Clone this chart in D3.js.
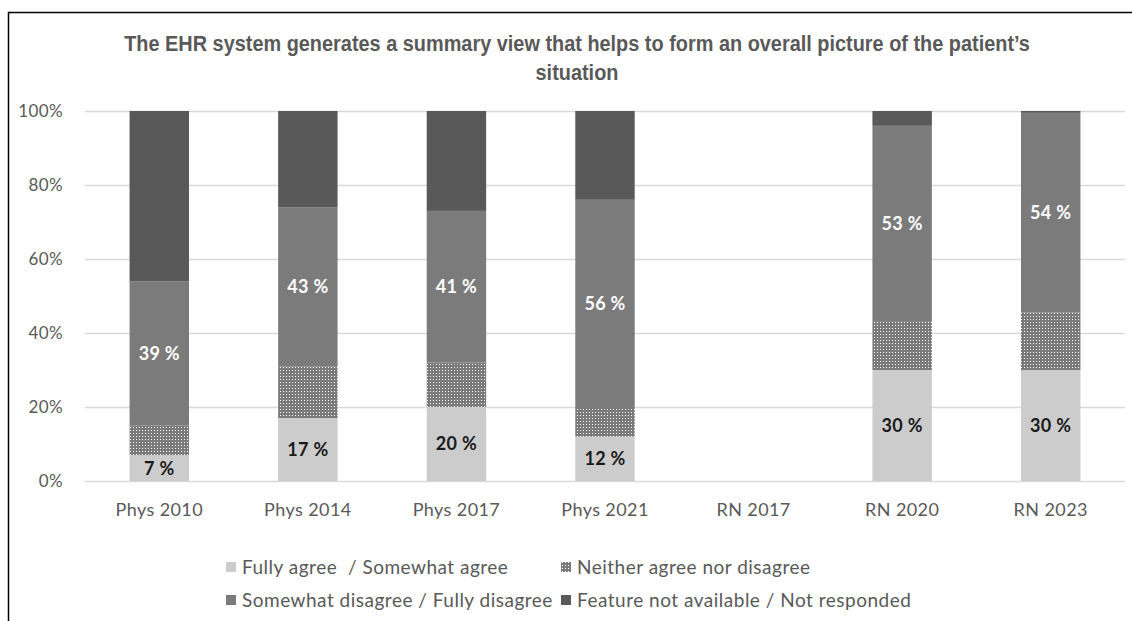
<!DOCTYPE html>
<html>
<head>
<meta charset="utf-8">
<script src="https://cdn.jsdelivr.net/npm/d3@7"></script>
<style>
  body { margin: 0; background: #fff; }
  svg { display: block; }
</style>
</head>
<body>
<svg id="chart" width="1132" height="621"></svg>
<script>
// Survey groups along the x axis
const categories = ["Phys 2010", "Phys 2014", "Phys 2017", "Phys 2021", "RN 2017", "RN 2020", "RN 2023"];

// Response shares (%) per group; RN 2017 has no answers for this item
const agree        = [7, 17, 20, 12, null, 30, 30];
const neutral      = [8, 14, 12, 8, null, 13, 15.5];
const disagree     = [39, 43, 41, 56, null, 53, 54];
const notAvailable = [46, 26, 27, 24, null, 4, 0.5];

const seriesNames = [
  "Fully agree  / Somewhat agree",
  "Neither agree nor disagree",
  "Somewhat disagree / Fully disagree",
  "Feature not available / Not responded"
];
const yTicks = [0, 20, 40, 60, 80, 100];
const titleLines = [
  "The EHR system generates a summary view that helps to form an overall picture of the patient\u2019s",
  "situation"
];

const keys = ["agree", "neutral", "disagree", "notAvailable"];
const rows = categories.map((c, i) => ({
  category: c,
  agree: agree[i] ?? 0,
  neutral: neutral[i] ?? 0,
  disagree: disagree[i] ?? 0,
  notAvailable: notAvailable[i] ?? 0
}));

const svg = d3.select("#chart");
const textFont = "Lato, 'Open Sans', sans-serif";
const axisGrey = "#595959";

// Dotted fill for the neutral answers
const defs = svg.append("defs");
const pat = defs.append("pattern")
  .attr("id", "dots").attr("patternUnits", "userSpaceOnUse")
  .attr("width", 3).attr("height", 3);
pat.append("rect").attr("width", 3).attr("height", 3).attr("fill", "#7a7a7a");
pat.append("rect").attr("x", 1).attr("y", 1).attr("width", 1).attr("height", 1).attr("fill", "#ffffff");

const fills = { agree: "#cccccc", neutral: "url(#dots)", disagree: "#7b7b7b", notAvailable: "#595959" };

// Chart frame
svg.append("path")
  .attr("d", "M8.5,621 L8.5,12.5 L1132,12.5")
  .attr("fill", "none").attr("stroke", "#000").attr("stroke-width", 1.5);

// Title, set in a condensed bold face (squeezed horizontally to the line width)
const titleFont = "'Liberation Sans', Arial, sans-serif";
const titleSize = 22;
const titleLine = (txt) => {
  const g = svg.append("g");
  const t = g.append("text").attr("x", 0).attr("y", 0)
    .attr("font-family", titleFont).attr("font-weight", "bold").attr("font-size", titleSize)
    .attr("fill", axisGrey).attr("text-anchor", "middle").text(txt);
  return { g, t };
};
const l1 = titleLine(titleLines[0]);
const sx = 906 / l1.t.node().getComputedTextLength();
l1.g.attr("transform", `translate(577,51) scale(${sx},1)`);
const l2 = titleLine(titleLines[1]);
l2.g.attr("transform", `translate(577,80) scale(${sx},1)`);

// Scales
const x = d3.scaleBand().domain(categories).range([85, 1125]).paddingInner(0.6).paddingOuter(0.3);
const y = d3.scaleLinear().domain([0, 100]).range([481, 111]);

// Gridlines and y labels
const yAxis = d3.axisLeft(y).tickValues(yTicks).tickFormat(d => d + "%")
  .tickSize(-(1125 - 85)).tickPadding(22);
const gy = svg.append("g").attr("transform", "translate(85,0)").call(yAxis);
gy.select(".domain").remove();
gy.selectAll(".tick line").attr("stroke", "#d9d9d9").attr("stroke-width", 1.3);
gy.selectAll(".tick text").attr("fill", axisGrey).attr("font-size", 17)
  .attr("letter-spacing", 0.4).attr("font-family", textFont);

// x labels
const xAxis = d3.axisBottom(x).tickSize(0).tickPadding(22);
const gx = svg.append("g").attr("transform", "translate(0,481)").call(xAxis);
gx.select(".domain").remove();
gx.selectAll(".tick text").attr("fill", axisGrey).attr("font-size", 18)
  .attr("letter-spacing", 0.4).attr("font-family", textFont);

// Stacked bars
const stacked = d3.stack().keys(keys)(rows);
const layers = svg.append("g").selectAll("g").data(stacked).join("g")
  .attr("fill", d => fills[d.key]);
layers.selectAll("rect").data(d => d).join("rect")
  .attr("x", d => x(d.data.category))
  .attr("width", x.bandwidth())
  .attr("y", d => y(d[1]))
  .attr("height", d => y(d[0]) - y(d[1]));

// Value labels on the agree and disagree segments
const labelled = [
  { key: "agree", color: "#1a1a1a" },
  { key: "disagree", color: "#ffffff" }
];
labelled.forEach(({ key, color }) => {
  const layer = stacked.find(s => s.key === key);
  svg.append("g").selectAll("text").data(layer.filter(d => d[1] - d[0] > 0)).join("text")
    .attr("x", d => x(d.data.category) + x.bandwidth() / 2)
    .attr("y", d => y((d[0] + d[1]) / 2))
    .attr("dy", "0.36em")
    .attr("text-anchor", "middle")
    .attr("font-family", textFont).attr("font-weight", "bold").attr("font-size", 18)
    .attr("letter-spacing", 0.3)
    .attr("fill", color)
    .text(d => d.data[key] + " %");
});

// Legend
const legendPos = [
  { x: 226, y: 567 }, { x: 561, y: 567 },
  { x: 226, y: 600 }, { x: 561, y: 600 }
];
const legend = svg.append("g").selectAll("g").data(keys).join("g")
  .attr("transform", (d, i) => `translate(${legendPos[i].x},${legendPos[i].y})`);
legend.append("rect").attr("x", 0).attr("y", -5).attr("width", 10).attr("height", 10)
  .attr("fill", d => fills[d]);
legend.append("text").attr("x", 16).attr("dy", "0.35em")
  .attr("font-family", textFont).attr("font-size", 19).attr("fill", axisGrey)
  .attr("letter-spacing", 0.5)
  .attr("xml:space", "preserve")
  .text((d, i) => seriesNames[i]);
</script>
</body>
</html>
